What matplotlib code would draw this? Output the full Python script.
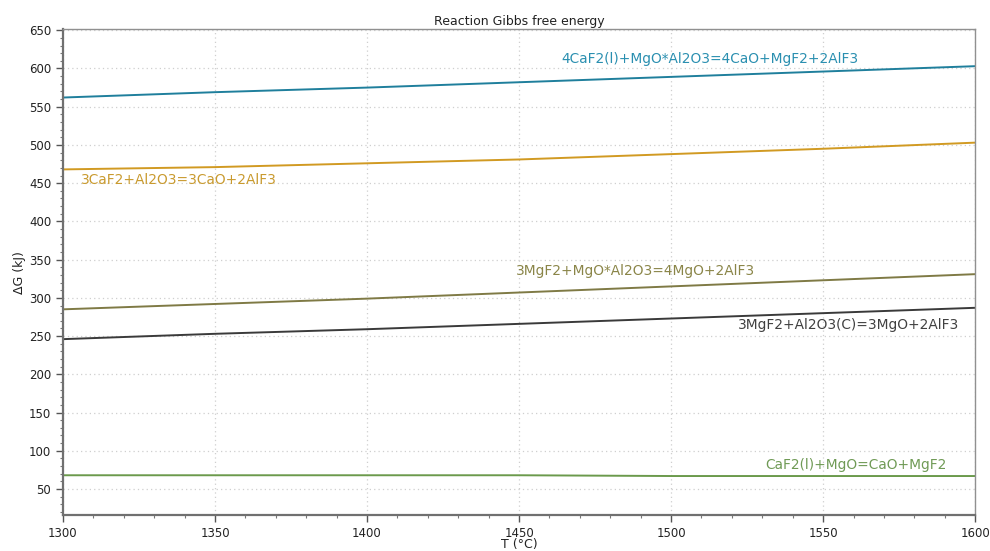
import matplotlib
matplotlib.use("Agg")
import matplotlib.pyplot as plt
from matplotlib.ticker import MultipleLocator

# temperature points (°C)
temps = [1300, 1350, 1400, 1450, 1500, 1550, 1600]

# reaction Gibbs energies (kJ)
dg_4caf2 = [562, 569, 575, 582, 589, 596, 603]
dg_3caf2 = [468, 471, 476, 481, 488, 495, 503]
dg_3mgf2_spinel = [285, 292, 299, 307, 315, 323, 331]
dg_3mgf2_al2o3 = [246, 253, 259, 266, 273, 280, 287]
dg_caf2_mgo = [68, 68, 68, 68, 67, 67, 67]

names = ["4CaF2(l)+MgO*Al2O3=4CaO+MgF2+2AlF3",
         "3CaF2+Al2O3=3CaO+2AlF3",
         "3MgF2+MgO*Al2O3=4MgO+2AlF3",
         "3MgF2+Al2O3(C)=3MgO+2AlF3",
         "CaF2(l)+MgO=CaO+MgF2"]
series = [dg_4caf2, dg_3caf2, dg_3mgf2_spinel, dg_3mgf2_al2o3, dg_caf2_mgo]
colors = ["#1f7f9c", "#d19a22", "#7f7a45", "#3a3a3a", "#6b9a4c"]
text_colors = ["#2a8fb0", "#c99a2e", "#8a8548", "#404040", "#6f9a55"]
# label anchor (x, y) in data units
label_pos = [(1464, 613), (1306, 454), (1449, 335), (1522, 265), (1531, 82)]

fig = plt.figure(figsize=(9.9, 5.51), dpi=100)
ax = fig.add_axes([0.0636, 0.0653, 0.9214, 0.8812])

for vals, c in zip(series, colors):
    ax.plot(temps, vals, color=c, lw=1.4)

for name, (lx, ly), c in zip(names, label_pos, text_colors):
    ax.text(lx, ly, name, color=c, fontsize=9.9, va="center", ha="left")

ax.set_xlim(1300, 1600)
ax.set_ylim(16, 651)
ax.xaxis.set_major_locator(MultipleLocator(50))
ax.xaxis.set_minor_locator(MultipleLocator(10))
ax.yaxis.set_major_locator(MultipleLocator(50))
ax.yaxis.set_minor_locator(MultipleLocator(10))

ax.grid(True, which="major", ls=(0, (1, 2.5)), color="#cfcfcf", lw=0.9)
ax.tick_params(which="major", direction="out", length=5, width=1, color="#555555",
               labelsize=8.5, labelcolor="#222222")
ax.tick_params(which="minor", direction="out", length=2.5, width=0.8, color="#777777")

for s in ["left", "bottom"]:
    ax.spines[s].set_color("#707070")
    ax.spines[s].set_linewidth(1.6)
for s in ["top", "right"]:
    ax.spines[s].set_color("#909090")
    ax.spines[s].set_linewidth(1.0)

ax.set_title("Reaction Gibbs free energy", fontsize=9, color="#222222", pad=3)
ax.set_xlabel("T (°C)", fontsize=9, color="#222222", labelpad=-1)
ax.set_ylabel("ΔG (kJ)", fontsize=9, color="#222222", labelpad=2)

fig.savefig("out.png", dpi=100)
